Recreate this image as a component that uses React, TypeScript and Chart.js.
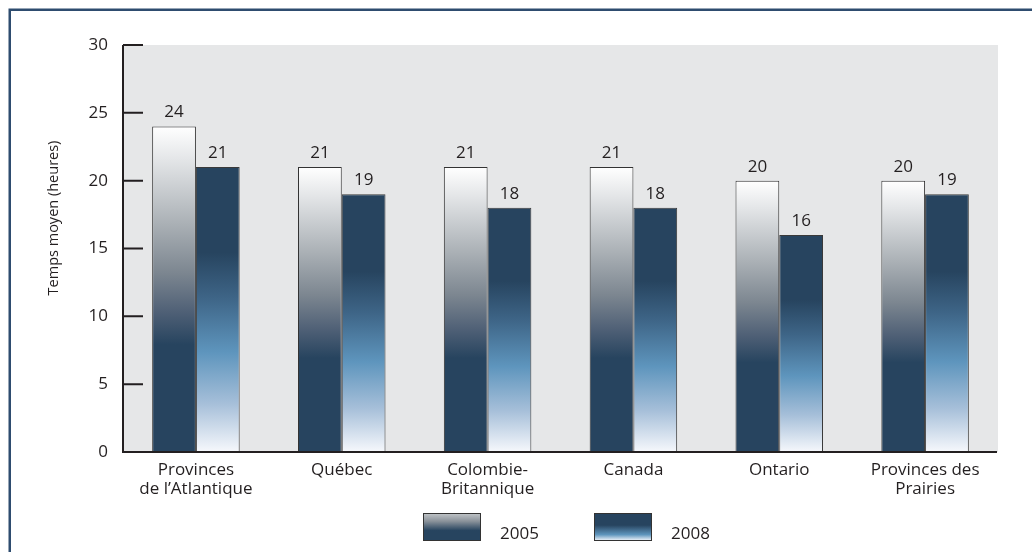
import React, { useEffect, useRef } from "react";
import { Chart, registerables } from "chart.js";

Chart.register(...registerables);

const categories: string[][] = [
  ["Provinces", "de l’Atlantique"],
  ["Québec"],
  ["Colombie-", "Britannique"],
  ["Canada"],
  ["Ontario"],
  ["Provinces des", "Prairies"],
];
const values2005 = [24, 21, 21, 21, 20, 20];
const values2008 = [21, 19, 18, 18, 16, 19];
const seriesLabels = ["2005", "2008"];
const yTicks = [0, 5, 10, 15, 20, 25, 30];
const yTitle = "Temps moyen (heures)";

const NAVY = "#27445f";
const TEXT = "#231f20";
const FONT = "'Open Sans', 'Noto Sans', sans-serif";

const stops2005: [number, string][] = [
  [0, "#ffffff"],
  [0.1, "#e4e6e8"],
  [0.3, "#aab0b5"],
  [0.45, "#7c8690"],
  [0.57, "#4f6076"],
  [0.67, NAVY],
  [1, NAVY],
];
const stops2008: [number, string][] = [
  [0, NAVY],
  [0.3, NAVY],
  [0.46, "#3e6587"],
  [0.65, "#5e95bd"],
  [0.83, "#a6bfd9"],
  [1, "#f6f8fc"],
];
const legendStops2005: [number, string][] = [
  [0, "#c3c7ca"],
  [0.3, "#8b939b"],
  [0.65, NAVY],
  [1, NAVY],
];
const legendStops2008: [number, string][] = [
  [0, NAVY],
  [0.45, NAVY],
  [0.8, "#5e95bd"],
  [1, "#e4ecf5"],
];

function makeGradient(ctx: CanvasRenderingContext2D, top: number, bottom: number, stops: [number, string][]) {
  const g = ctx.createLinearGradient(0, top, 0, bottom);
  stops.forEach(([o, c]) => g.addColorStop(o, c));
  return g;
}

function barFill(stops: [number, string][]) {
  return (c: any) => {
    const chart = c.chart;
    if (!chart.chartArea || c.type !== "data" || !chart.scales.y) return NAVY;
    const v = c.parsed ? c.parsed.y : c.raw;
    const top = chart.scales.y.getPixelForValue(v);
    const bottom = chart.scales.y.getPixelForValue(0);
    return makeGradient(chart.ctx, top, bottom, stops);
  };
}

const backgroundPlugin = {
  id: "bg",
  beforeDraw(chart: any) {
    const { ctx, chartArea } = chart;
    ctx.save();
    ctx.fillStyle = "#ffffff";
    ctx.fillRect(0, 0, chart.width, chart.height);
    ctx.fillStyle = "#e6e7e8";
    ctx.fillRect(chartArea.left, chartArea.top, chartArea.right - chartArea.left, chartArea.bottom - chartArea.top);
    // outer frame
    ctx.strokeStyle = "#2e4c6f";
    ctx.lineWidth = 2.5;
    ctx.strokeRect(9.75, 9.75, chart.width + 20, chart.height + 20);
    ctx.restore();
  },
};

const axesPlugin = {
  id: "axesLines",
  afterDatasetsDraw(chart: any) {
    const { ctx, chartArea, scales } = chart;
    const y = scales.y;
    ctx.save();
    ctx.strokeStyle = TEXT;
    ctx.lineWidth = 2;
    ctx.beginPath();
    const x0 = chartArea.left;
    ctx.moveTo(x0, y.getPixelForValue(30));
    ctx.lineTo(x0, y.getPixelForValue(0) + 1);
    yTicks.forEach((t) => {
      const py = y.getPixelForValue(t);
      ctx.moveTo(x0, py);
      ctx.lineTo(x0 + 20, py);
    });
    ctx.moveTo(x0, y.getPixelForValue(0));
    ctx.lineTo(chartArea.right - 1, y.getPixelForValue(0));
    ctx.stroke();
    // y-axis title
    ctx.fillStyle = TEXT;
    ctx.font = `14.5px ${FONT}`;
    ctx.textAlign = "center";
    ctx.textBaseline = "middle";
    ctx.translate(54, 218);
    ctx.rotate(-Math.PI / 2);
    ctx.fillText(yTitle, 0, 0);
    ctx.restore();
  },
};

const valueLabelPlugin = {
  id: "valueLabels",
  afterDatasetsDraw(chart: any) {
    const { ctx } = chart;
    ctx.save();
    ctx.fillStyle = TEXT;
    ctx.font = `17px ${FONT}`;
    ctx.textAlign = "center";
    ctx.textBaseline = "alphabetic";
    chart.data.datasets.forEach((ds: any, di: number) => {
      const meta = chart.getDatasetMeta(di);
      meta.data.forEach((el: any, i: number) => {
        ctx.fillText(String(ds.data[i]), el.x, el.y - 9);
      });
    });
    ctx.restore();
  },
};

const legendPlugin = {
  id: "customLegend",
  afterDraw(chart: any) {
    const { ctx, chartArea } = chart;
    const cx = (chartArea.left + chartArea.right) / 2;
    const starts = [cx - 137.5, cx + 33.5];
    const boxW = 57;
    const boxH = 27;
    const boxY = 513;
    const legendStops = [legendStops2005, legendStops2008];
    ctx.save();
    chart.data.datasets.forEach((ds: any, i: number) => {
      const bx = starts[i];
      ctx.fillStyle = makeGradient(ctx, boxY, boxY + boxH, legendStops[i]);
      ctx.fillRect(bx, boxY, boxW, boxH);
      ctx.strokeStyle = "#333333";
      ctx.lineWidth = 1;
      ctx.strokeRect(bx + 0.5, boxY + 0.5, boxW, boxH);
      ctx.fillStyle = TEXT;
      ctx.font = `17px ${FONT}`;
      ctx.textAlign = "left";
      ctx.textBaseline = "alphabetic";
      ctx.fillText(ds.label, bx + boxW + 20, 539);
    });
    ctx.restore();
  },
};

export default function App() {
  const ref = useRef<HTMLCanvasElement | null>(null);
  useEffect(() => {
    if (!ref.current) return;
    Chart.defaults.font.family = FONT;
    Chart.defaults.font.size = 17;
    Chart.defaults.color = TEXT;
    const chart = new Chart(ref.current, {
      type: "bar",
      data: {
        labels: categories,
        datasets: [
          {
            label: seriesLabels[0],
            data: values2005,
            backgroundColor: barFill(stops2005),
            borderColor: "#333333",
            borderWidth: 1,
            categoryPercentage: 0.6,
            barPercentage: 1,
          },
          {
            label: seriesLabels[1],
            data: values2008,
            backgroundColor: barFill(stops2008),
            borderColor: "#3a3a3a",
            borderWidth: 1,
            categoryPercentage: 0.6,
            barPercentage: 1,
          },
        ],
      },
      options: {
        responsive: false,
        animation: false,
        devicePixelRatio: 1,
        layout: { padding: { left: 0, right: 34, top: 45, bottom: 0 } },
        plugins: {
          legend: { display: false },
          tooltip: { enabled: false },
        },
        scales: {
          x: {
            grid: { display: false, drawTicks: false },
            border: { display: false },
            ticks: { padding: 8, color: TEXT, font: { size: 17, lineHeight: 1.15 }, autoSkip: false, maxRotation: 0 },
            afterFit: (s: any) => {
              s.height = 100;
            },
          },
          y: {
            min: 0,
            max: 30,
            grid: { display: false, drawTicks: false },
            border: { display: false },
            ticks: { padding: 15, color: TEXT, font: { size: 17 } },
            afterBuildTicks: (s: any) => {
              s.ticks = yTicks.map((v) => ({ value: v }));
            },
            afterFit: (s: any) => {
              s.width = 123;
            },
            title: { display: false, text: yTitle },
          },
        },
      },
      plugins: [backgroundPlugin, axesPlugin, valueLabelPlugin, legendPlugin],
    } as any);
    return () => chart.destroy();
  }, []);
  return (
    <div style={{ position: "absolute", left: 0, top: 0, width: 1032, height: 552 }}>
      <canvas ref={ref} width={1032} height={552} />
    </div>
  );
}
